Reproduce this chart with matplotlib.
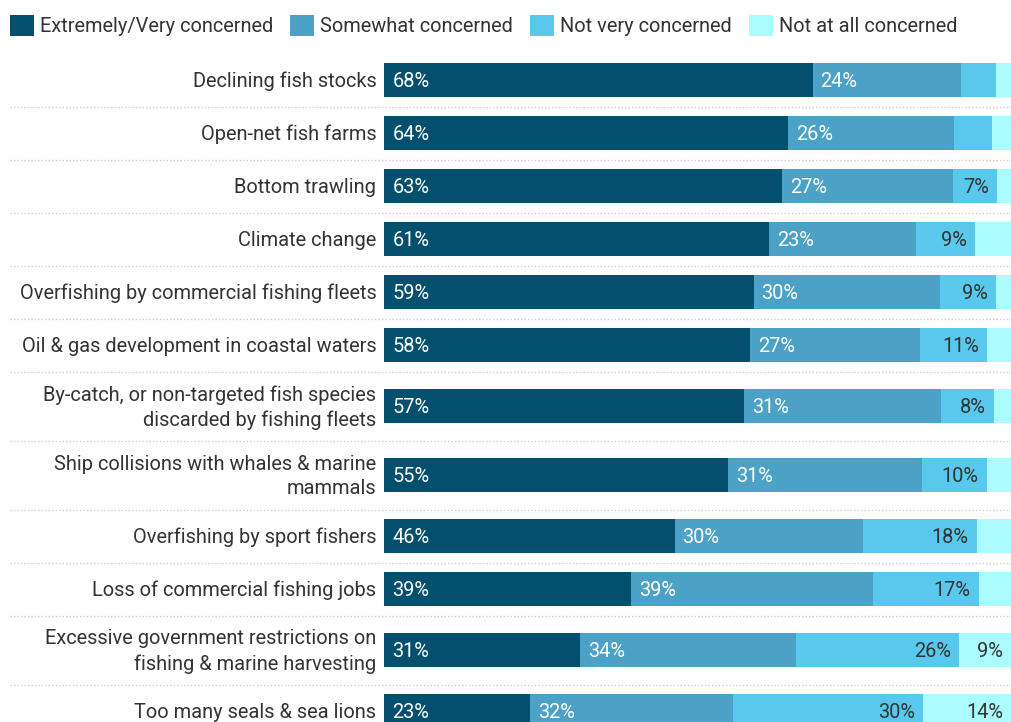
import matplotlib
matplotlib.use('Agg')
import matplotlib.pyplot as plt
from matplotlib.patches import Patch

plt.rcParams['font.family'] = ['Roboto', 'DejaVu Sans']

categories = [
    "Declining fish stocks",
    "Open-net fish farms",
    "Bottom trawling",
    "Climate change",
    "Overfishing by commercial fishing fleets",
    "Oil & gas development in coastal waters",
    "By-catch, or non-targeted fish species\ndiscarded by fishing fleets",
    "Ship collisions with whales & marine\nmammals",
    "Overfishing by sport fishers",
    "Loss of commercial fishing jobs",
    "Excessive government restrictions on\nfishing & marine harvesting",
    "Too many seals & sea lions",
]
series_names = ["Extremely/Very concerned", "Somewhat concerned",
                "Not very concerned", "Not at all concerned"]
very = [68.3, 64.4, 63.4, 61.4, 58.9, 58.4, 57.4, 54.8, 46.3, 39.3, 31.2, 23.2]
somewhat = [23.6, 26.4, 27.3, 23.4, 29.7, 27.0, 31.4, 30.9, 30.0, 38.6, 34.4, 32.4]
not_very = [5.7, 6.1, 7.0, 9.4, 8.9, 10.7, 8.4, 10.4, 18.2, 16.9, 26.0, 30.3]
not_at_all = [2.5, 3.1, 2.3, 5.8, 2.5, 3.9, 2.8, 3.9, 5.5, 5.2, 8.6, 14.1]

colors = ["#03506e", "#4ba2c6", "#58c9ec", "#aafcff"]
text_colors = ["white", "white", "#333333", "#333333"]

W, H = 1011, 722
x0_px, px_per_pct = 384.3, 6.27
fs = 14.4

fig = plt.figure(figsize=(W / 100, H / 100), dpi=100)
ax = fig.add_axes([0, 0, 1, 1])
ax.set_xlim(-x0_px / px_per_pct, (W - x0_px) / px_per_pct)
ax.set_ylim(H, 0)
ax.axis('off')

# row layout (pixel units on y)
centers, heights = [], []
y = 80
for i, cat in enumerate(categories):
    h = 69 if '\n' in cat else 53
    if i > 0:
        y += (heights[-1] + h) / 2
    centers.append(y)
    heights.append(h)

pad = 8 / px_per_pct
dy = 1.5
series = [very, somewhat, not_very, not_at_all]
left = [0] * len(categories)
for k, vals in enumerate(series):
    ax.barh(centers, vals, left=left, height=34, color=colors[k], linewidth=0)
    for i, v in enumerate(vals):
        if v >= 6.5:
            if k < 2:
                ax.text(left[i] + pad, centers[i] + dy, f"{v:.0f}%", ha='left', va='center',
                        fontsize=fs, color=text_colors[k])
            else:
                ax.text(min(left[i] + v, 100) - pad, centers[i] + dy, f"{v:.0f}%", ha='right',
                        va='center', fontsize=fs, color=text_colors[k])
    left = [a + b for a, b in zip(left, vals)]

for i, cat in enumerate(categories):
    ax.text(-pad, centers[i] + dy, cat, ha='right', va='center', fontsize=fs,
            color='#333333', linespacing=1.38)
    if i > 0:
        ax.hlines(centers[i] - heights[i] / 2, (10 - x0_px) / px_per_pct, 100,
                  colors='#cccccc', linestyles=(0, (1, 1.5)), linewidth=1)

handles = [Patch(facecolor=c, edgecolor='none') for c in colors]
fig.legend(handles, series_names, loc='upper left', bbox_to_anchor=(10 / W, 1 - 15 / H),
           ncol=4, frameon=False, fontsize=fs, handlelength=1.2, handleheight=1.2,
           handletextpad=0.3, columnspacing=0.85, borderaxespad=0, borderpad=0,
           labelcolor='#333333')

fig.savefig('out.png', dpi=100)
